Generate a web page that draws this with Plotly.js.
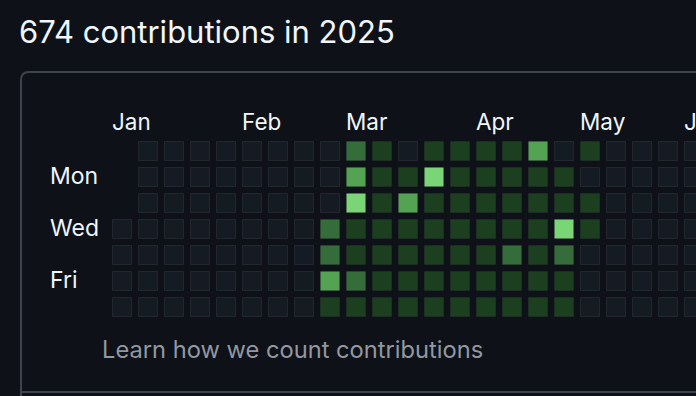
<!DOCTYPE html>
<html>
<head>
<meta charset="utf-8">
<script src="https://cdn.plot.ly/plotly-3.0.1.min.js"></script>
<style>
html,body{margin:0;padding:0;background:#0e1117;}
#chart{width:696px;height:396px;}
</style>
</head>
<body>
<div id="chart"></div>
<script>
// Contribution levels per weekday (rows) across weeks (columns 0..22), null = no day
const weekdayNames = ["Sun","Mon","Tue","Wed","Thu","Fri","Sat"];
const sun = [null,0,0,0,0,0,0,0,0,2,1,0,1,1,1,1,3,0,1,0,0,0,0];
const mon = [null,0,0,0,0,0,0,0,0,3,1,1,4,1,1,1,1,1,0,0,0,0,0];
const tue = [null,0,0,0,0,0,0,0,0,4,1,3,1,1,1,1,1,1,1,0,0,0,0];
const wed = [0,0,0,0,0,0,0,0,2,1,1,1,1,1,1,1,1,4,1,0,0,0,0];
const thu = [0,0,0,0,0,0,0,0,2,1,1,1,1,1,1,2,1,2,0,0,0,0,0];
const fri = [0,0,0,0,0,0,0,0,3,2,1,1,1,1,1,1,1,1,0,0,0,0,0];
const sat = [0,0,0,0,0,0,0,0,1,1,1,1,1,1,1,1,1,1,0,0,0,0,0];
const monthLabels = ["Jan","Feb","Mar","Apr","May","Jun"];
const monthWeeks = [0,5,9,14,18,22];
const dayLabels = ["Mon","Wed","Fri"];
const dayLabelRows = [1,3,5];
const totalContributions = 674;
const year = 2025;

const palette = ["#151b23","#1b3f1f","#356d3a","#53a352","#7ad576"];
const borders = ["#22272f","rgba(255,255,255,0.04)","rgba(255,255,255,0.04)","rgba(255,255,255,0.04)","rgba(255,255,255,0.04)"];

const rows = [sun,mon,tue,wed,thu,fri,sat];
const xs=[], ys=[], cs=[], bs=[], txt=[];
rows.forEach((r,ri)=>{
  r.forEach((v,ci)=>{
    if(v===null) return;
    xs.push(ci); ys.push(ri); cs.push(palette[v]); bs.push(borders[v]);
    txt.push(weekdayNames[ri]+" week "+ci+": level "+v);
  });
});

const W=696,H=396;
const px = v => v/W;
const py = v => 1 - v/H;
const FONT = "Inter, 'Noto Sans', sans-serif";

const trace = {
  type:"scatter", mode:"markers", x:xs, y:ys, text:txt, hoverinfo:"text",
  marker:{symbol:"square", size:19, color:cs, line:{color:bs, width:1}},
  cliponaxis:true
};

const annotations = [];
monthLabels.forEach((m,i)=>{
  annotations.push({xref:"x", yref:"paper", x:monthWeeks[i]-0.45, y:py(121), xanchor:"left", yanchor:"middle",
    text:m, showarrow:false, font:{family:FONT, size:22.5, color:"#f0f6fc"}});
});
dayLabels.forEach((d,i)=>{
  annotations.push({xref:"paper", yref:"y", x:px(48), y:dayLabelRows[i]-0.03, xanchor:"left", yanchor:"middle",
    text:d, showarrow:false, font:{family:FONT, size:23, color:"#f0f6fc"}});
});
annotations.push({xref:"paper", yref:"paper", x:px(17), y:py(32), xanchor:"left", yanchor:"middle",
  text: totalContributions+" contributions in "+year, showarrow:false,
  font:{family:FONT, size:31, color:"#f0f6fc"}});
annotations.push({xref:"paper", yref:"paper", x:px(100), y:py(349), xanchor:"left", yanchor:"middle",
  text:"Learn how we count contributions", showarrow:false,
  font:{family:FONT, size:23.7, color:"#9198a1"}});

const r=8;
const cardPath = "M "+px(21)+","+py(H+2)+" L "+px(21)+","+py(72+r)+
  " Q "+px(21)+","+py(72)+" "+px(21+r)+","+py(72)+" L "+px(W+5)+","+py(72);
const shapes = [
  {type:"path", xref:"paper", yref:"paper", path:cardPath, line:{color:"#3d444d", width:2}, layer:"below"},
  {type:"line", xref:"paper", yref:"paper", x0:px(21), x1:px(W+5), y0:py(392), y1:py(392), line:{color:"#3d444d", width:2}, layer:"below"}
];

const layout = {
  width:W, height:H, autosize:false,
  margin:{l:0,r:0,t:0,b:0,pad:0},
  paper_bgcolor:"#0e1117", plot_bgcolor:"rgba(0,0,0,0)",
  showlegend:false,
  xaxis:{range:[-122/26, (W-122)/26], visible:false, fixedrange:true},
  yaxis:{range:[(H-151)/26, -151/26], visible:false, fixedrange:true},
  annotations:annotations, shapes:shapes
};

Plotly.newPlot("chart",[trace],layout,{displayModeBar:false, staticPlot:true});
</script>
</body>
</html>
